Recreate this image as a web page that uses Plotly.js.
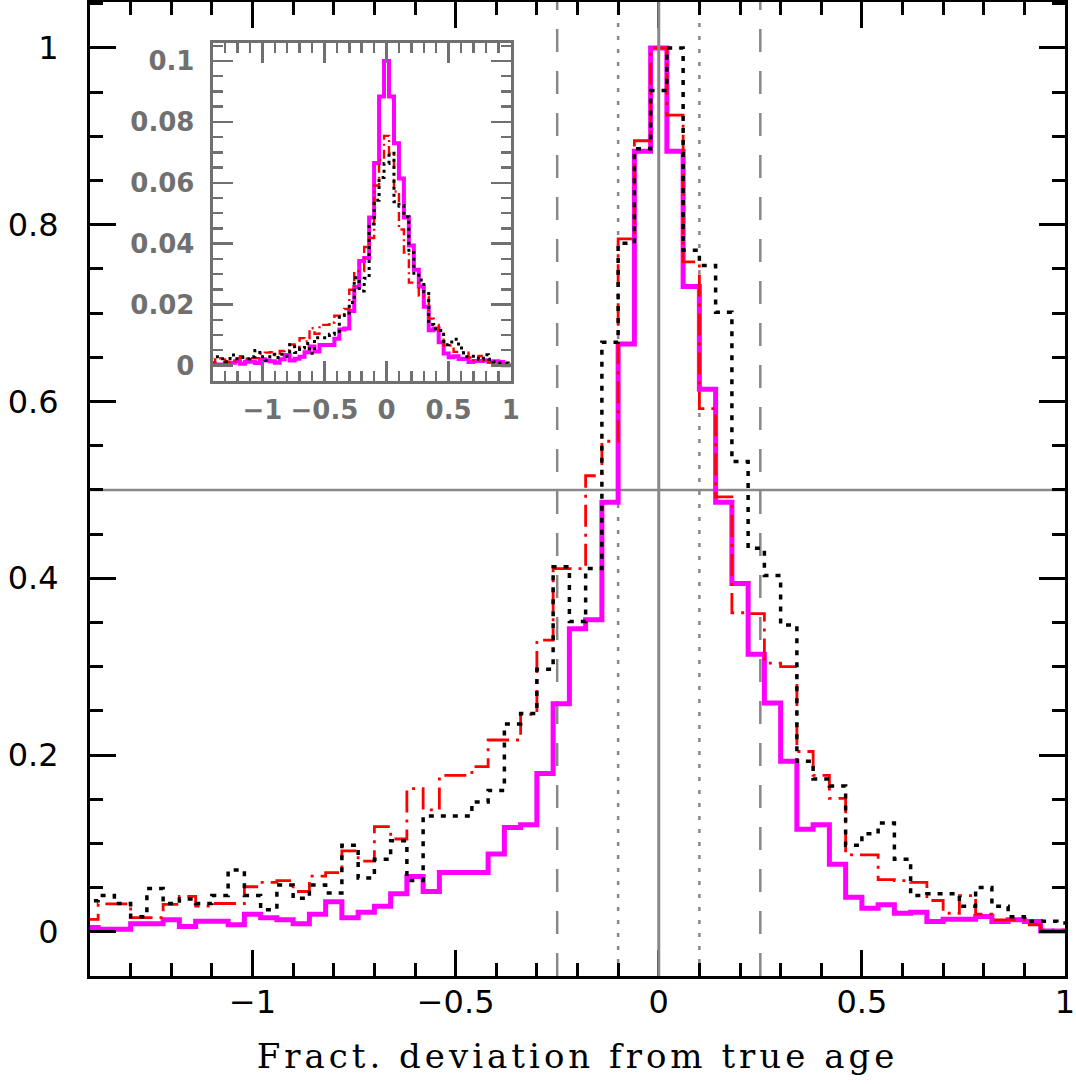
<!DOCTYPE html>
<html>
<head>
<meta charset="utf-8">
<script src="https://cdn.plot.ly/plotly-3.0.1.min.js"></script>
<style>
  html, body { margin: 0; padding: 0; background: #ffffff; }
  #chart { width: 1076px; height: 1084px; }
  #chart .xtitle { letter-spacing: 4px; }
</style>
</head>
<body>
<div id="chart"></div>
<script>
// Histogram bins: left edge of first bin and bin width (fractional deviation)
const binStart = -1.42;
const binWidth = 0.04;

// Normalised histograms (peak = 1), 61 bins from -1.42 to 1.02
const magentaHist = [
  0.005, 0.003, 0.003, 0.009, 0.009, 0.0136, 0.006, 0.012, 0.012, 0.008,
  0.020, 0.016, 0.0136, 0.009, 0.020, 0.034, 0.016, 0.022, 0.029, 0.043,
  0.0625, 0.0456, 0.067, 0.067, 0.067, 0.088, 0.118, 0.121, 0.179, 0.258,
  0.343, 0.353, 0.486, 0.665, 0.883, 1.0, 0.883, 0.730, 0.614, 0.486,
  0.394, 0.314, 0.259, 0.193, 0.116, 0.121, 0.0765, 0.039, 0.0267, 0.0305,
  0.021, 0.022, 0.0117, 0.0143, 0.0143, 0.0173, 0.0117, 0.0136, 0.0117, 0.001,
  0.001
];
const redHist = [
  0.014, 0.0316, 0.0316, 0.016, 0.016, 0.031, 0.040, 0.029, 0.032, 0.032,
  0.051, 0.056, 0.058, 0.0456, 0.063, 0.067, 0.0915, 0.080, 0.119, 0.105,
  0.162, 0.138, 0.177, 0.177, 0.187, 0.217, 0.217, 0.246, 0.330, 0.411,
  0.411, 0.516, 0.555, 0.784, 0.895, 1.0, 0.924, 0.758, 0.592, 0.492,
  0.361, 0.360, 0.304, 0.300, 0.204, 0.177, 0.151, 0.087, 0.087, 0.059,
  0.058, 0.056, 0.0354, 0.021, 0.041, 0.020, 0.0136, 0.0136, 0.008, 0.002,
  0.002
];
const blackHist = [
  0.035, 0.041, 0.032, 0.017, 0.049, 0.032, 0.037, 0.032, 0.041, 0.070,
  0.041, 0.025, 0.053, 0.038, 0.053, 0.044, 0.098, 0.061, 0.082, 0.103,
  0.058, 0.131, 0.131, 0.131, 0.147, 0.160, 0.235, 0.247, 0.297, 0.413,
  0.351, 0.411, 0.667, 0.779, 0.886, 0.952, 1.0, 0.771, 0.754, 0.701,
  0.532, 0.434, 0.403, 0.347, 0.193, 0.173, 0.165, 0.098, 0.111, 0.123,
  0.082, 0.041, 0.043, 0.043, 0.029, 0.050, 0.029, 0.017, 0.012, 0.012,
  0.010
];

// Inset: same histograms as fraction per bin; peak fraction of each series
// order: magenta, red, black
const insetPeakFraction = [0.1, 0.0754, 0.0697];

// Reference lines
const refSolidX = [0];
const refDottedX = [-0.1, 0.1];
const refDashedX = [-0.25, 0.25];
const refSolidY = [0.5];

// Axis settings
const xRange = [-1.4, 1.0];
const yRange = [-0.05, 1.052];
const insetYRange = [-0.005, 0.106];

const edges = [];
for (let i = 0; i <= magentaHist.length; i++) {
  edges.push(+(binStart + i * binWidth).toFixed(4));
}
function stepY(vals, scale) {
  const s = vals.map(v => v * scale);
  s.push(s[s.length - 1]);
  return s;
}

const styles = [
  { color: '#ff00ff', width: 5, dash: 'solid', iw: 4 },
  { color: '#ff0000', width: 2.8, dash: '22px,7px,3px,7px', iw: 2.4, idash: '9px,4px,2px,4px' },
  { color: '#000000', width: 3.5, dash: '5px,7px', iw: 3, idash: '3px,4px' }
];
const hists = [magentaHist, redHist, blackHist];

const traces = [];
hists.forEach((h, k) => {
  traces.push({
    type: 'scatter', mode: 'lines', x: edges, y: stepY(h, 1),
    line: { shape: 'hv', color: styles[k].color, width: styles[k].width, dash: styles[k].dash },
    xaxis: 'x', yaxis: 'y', hoverinfo: 'skip', showlegend: false
  });
});
hists.forEach((h, k) => {
  traces.push({
    type: 'scatter', mode: 'lines', x: edges, y: stepY(h, insetPeakFraction[k]),
    line: { shape: 'hv', color: styles[k].color, width: styles[k].iw, dash: styles[k].idash || 'solid' },
    xaxis: 'x2', yaxis: 'y2', hoverinfo: 'skip', showlegend: false
  });
});

const gray = '#888888';
const shapes = [];
refSolidX.forEach(v => shapes.push({ type: 'line', xref: 'x', yref: 'paper', x0: v, x1: v, y0: 0, y1: 1,
  line: { color: gray, width: 3 }, layer: 'above' }));
refDottedX.forEach(v => shapes.push({ type: 'line', xref: 'x', yref: 'paper', x0: v, x1: v, y0: 0, y1: 1,
  line: { color: gray, width: 2.5, dash: '4px,9px' }, layer: 'below' }));
refDashedX.forEach(v => shapes.push({ type: 'line', xref: 'x', yref: 'paper', x0: v, x1: v, y0: 0, y1: 1,
  line: { color: gray, width: 2.5, dash: '23px,19px' }, layer: 'below' }));
refSolidY.forEach(v => shapes.push({ type: 'line', xref: 'paper', yref: 'y', x0: 0, x1: 1, y0: v, y1: v,
  line: { color: gray, width: 2.5 }, layer: 'below' }));

const insetGray = '#707070';
const layout = {
  width: 1076, height: 1084,
  margin: { l: 90, r: 11, t: 2, b: 108, pad: 0 },
  paper_bgcolor: '#ffffff', plot_bgcolor: '#ffffff',
  font: { family: 'DejaVu Sans', color: '#000000' },
  showlegend: false,
  xaxis: {
    domain: [0, 1], range: xRange, tick0: 0, dtick: 0.5,
    ticks: 'inside', ticklen: 26, tickwidth: 3, tickcolor: '#000',
    minor: { dtick: 0.1, ticklen: 13, tickwidth: 3, ticks: 'inside', tickcolor: '#000', showgrid: false },
    showline: true, linewidth: 3, linecolor: '#000', mirror: 'allticks',
    showgrid: false, zeroline: false,
    tickfont: { size: 32, family: 'DejaVu Sans', color: '#000' },
    ticklabelstandoff: -4,
    title: { text: 'Fract. deviation from true age', font: { family: 'DejaVu Serif', size: 34, color: '#000' }, standoff: 24 }
  },
  yaxis: {
    domain: [0, 1], range: yRange, tick0: 0, dtick: 0.2,
    ticks: 'inside', ticklen: 26, tickwidth: 3, tickcolor: '#000',
    minor: { dtick: 0.05, ticklen: 13, tickwidth: 3, ticks: 'inside', tickcolor: '#000', showgrid: false },
    showline: true, linewidth: 3, linecolor: '#000', mirror: 'allticks',
    showgrid: false, zeroline: false,
    tickfont: { size: 32, family: 'DejaVu Sans', color: '#000' },
    ticklabelstandoff: 22
  },
  xaxis2: {
    domain: [0.1258, 0.4315], anchor: 'y2', range: xRange, tick0: 0, dtick: 0.5,
    ticks: 'inside', ticklen: 20, tickwidth: 2.5, tickcolor: insetGray,
    minor: { dtick: 0.1, ticklen: 10, tickwidth: 2.5, ticks: 'inside', tickcolor: insetGray, showgrid: false },
    showline: true, linewidth: 3, linecolor: insetGray, mirror: 'allticks',
    showgrid: false, zeroline: false,
    tickfont: { size: 26, family: 'DejaVu Sans', color: insetGray, weight: 'bold' },
    ticklabelstandoff: 4
  },
  yaxis2: {
    domain: [0.6112, 0.9582], anchor: 'x2', range: insetYRange, tick0: 0, dtick: 0.02,
    ticks: 'inside', ticklen: 20, tickwidth: 2.5, tickcolor: insetGray,
    minor: { dtick: 0.005, ticklen: 10, tickwidth: 2.5, ticks: 'inside', tickcolor: insetGray, showgrid: false },
    showline: true, linewidth: 3, linecolor: insetGray, mirror: 'allticks',
    showgrid: false, zeroline: false,
    tickfont: { size: 26, family: 'DejaVu Sans', color: insetGray, weight: 'bold' },
    ticklabelstandoff: 10
  },
  shapes: shapes
};

Plotly.newPlot('chart', traces, layout, { staticPlot: true, displayModeBar: false });
</script>
</body>
</html>
